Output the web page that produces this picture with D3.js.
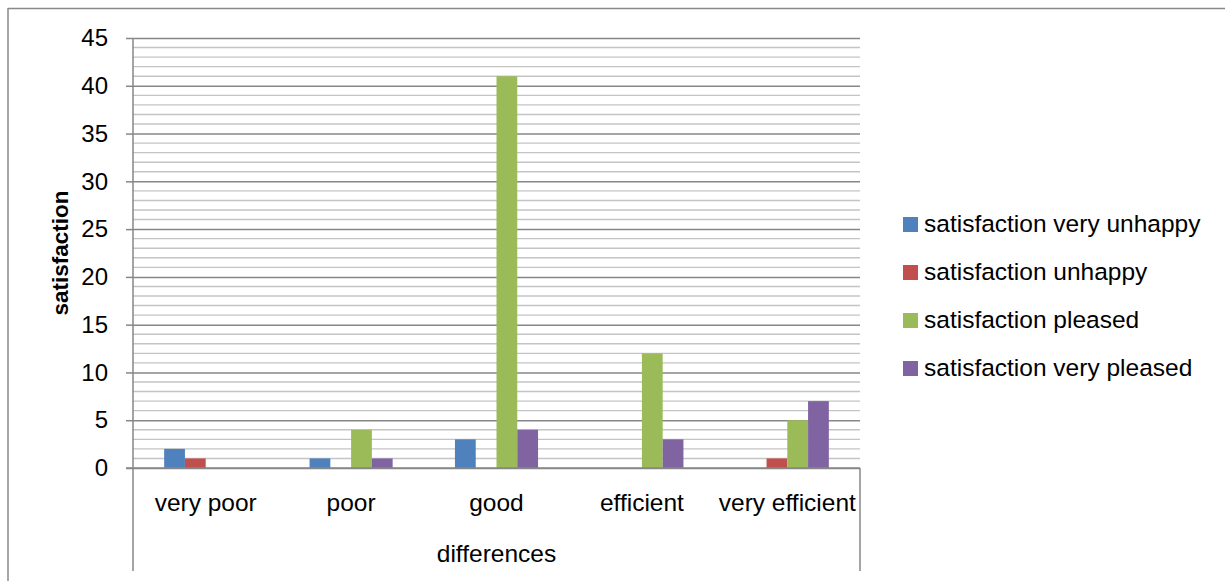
<!DOCTYPE html>
<html>
<head>
<meta charset="utf-8">
<script src="https://cdn.jsdelivr.net/npm/d3@7"></script>
<style>
  html, body { margin: 0; padding: 0; background: #fff; }
  svg { display: block; font-family: "Liberation Sans", Arial, sans-serif; }
</style>
</head>
<body>
<svg id="chart" width="1225" height="581"></svg>
<script>
// Categories on the x axis (outer group: "differences")
const categories = ["very poor", "poor", "good", "efficient", "very efficient"];
const seriesNames = [
  "satisfaction very unhappy",
  "satisfaction unhappy",
  "satisfaction pleased",
  "satisfaction very pleased"
];
const veryUnhappy = [2, 1, 3, 0, 0];
const unhappy     = [1, 0, 0, 0, 1];
const pleased     = [0, 4, 41, 12, 5];
const veryPleased = [0, 1, 4, 3, 7];
const seriesColors = ["#4F81BD", "#C0504D", "#9BBB59", "#8064A2"];
const yTicks = [0, 5, 10, 15, 20, 25, 30, 35, 40, 45];

const seriesValues = [veryUnhappy, unhappy, pleased, veryPleased];

const svg = d3.select("#chart");
const plot = { left: 133, right: 860, top: 38, bottom: 468 };

const x = d3.scaleBand().domain(categories).range([plot.left, plot.right]);
// bars take 4/7 of each band, gap 3/7
const barW = x.bandwidth() / 7;
const xInner = d3.scaleBand().domain(seriesNames)
  .range([-2 * barW, 2 * barW]);
const y = d3.scaleLinear().domain([0, 45]).range([plot.bottom, plot.top]);

// outer chart frame (top and left edges)
svg.append("line").attr("x1", 8).attr("x2", 1225).attr("y1", 8.5).attr("y2", 8.5)
  .attr("stroke", "#888").attr("stroke-width", 1.5);
svg.append("line").attr("x1", 8).attr("x2", 8).attr("y1", 8).attr("y2", 581)
  .attr("stroke", "#888").attr("stroke-width", 1.5);

// minor gridlines every 1 unit
const minor = d3.range(1, 45).filter(v => v % 5 !== 0);
svg.append("g").selectAll("line").data(minor).join("line")
  .attr("x1", plot.left).attr("x2", plot.right)
  .attr("y1", d => y(d)).attr("y2", d => y(d))
  .attr("stroke", "#c4c4c4").attr("stroke-width", 1.4);

// major gridlines with ticks on the y axis
const yAxis = d3.axisLeft(y).tickValues(yTicks).tickSize(-(plot.right - plot.left))
  .tickPadding(25).tickFormat(d3.format("d"));
const gy = svg.append("g").attr("transform", `translate(${plot.left},0)`).call(yAxis);
gy.select(".domain").remove();
gy.selectAll(".tick line").attr("stroke", "#878787").attr("stroke-width", 1.5);
gy.selectAll(".tick").append("line")
  .attr("x1", -7).attr("x2", 0).attr("stroke", "#878787").attr("stroke-width", 1.5);
gy.selectAll(".tick text")
  .attr("font-size", 24).attr("fill", "#000")
  .attr("font-family", "'Liberation Sans', Arial, sans-serif");

// bars
const barData = [];
categories.forEach((c, i) => {
  seriesNames.forEach((s, j) => {
    barData.push({ cat: c, series: s, value: seriesValues[j][i], color: seriesColors[j] });
  });
});
svg.append("g").selectAll("rect").data(barData.filter(d => d.value > 0)).join("rect")
  .attr("x", d => x(d.cat) + x.bandwidth() / 2 + xInner(d.series))
  .attr("width", xInner.bandwidth())
  .attr("y", d => y(d.value))
  .attr("height", d => y(0) - y(d.value))
  .attr("fill", d => d.color);

// x axis line and category box
svg.append("line").attr("x1", plot.left - 7).attr("x2", plot.right)
  .attr("y1", y(0)).attr("y2", y(0)).attr("stroke", "#878787").attr("stroke-width", 1.5);
svg.append("line").attr("x1", plot.left).attr("x2", plot.left)
  .attr("y1", plot.top).attr("y2", 571).attr("stroke", "#878787").attr("stroke-width", 1.5);
svg.append("line").attr("x1", plot.right).attr("x2", plot.right)
  .attr("y1", y(0)).attr("y2", 571).attr("stroke", "#878787").attr("stroke-width", 1.5);

// category labels
svg.append("g").selectAll("text").data(categories).join("text")
  .attr("x", d => x(d) + x.bandwidth() / 2)
  .attr("y", 511)
  .attr("text-anchor", "middle")
  .attr("font-size", 24.5)
  .attr("fill", "#000")
  .text(d => d);

// outer group label
svg.append("text")
  .attr("x", (plot.left + plot.right) / 2)
  .attr("y", 562)
  .attr("text-anchor", "middle")
  .attr("font-size", 24.5)
  .attr("fill", "#000")
  .text("differences");

// y axis title
svg.append("text")
  .attr("transform", `translate(68,253) rotate(-90)`)
  .attr("text-anchor", "middle")
  .attr("font-size", 22.5)
  .attr("font-weight", "bold")
  .attr("fill", "#000")
  .text("satisfaction");

// legend
const legend = svg.append("g").selectAll("g").data(seriesNames).join("g")
  .attr("transform", (d, i) => `translate(903,${232 + i * 48})`);
legend.append("rect")
  .attr("x", 0).attr("y", -15).attr("width", 15).attr("height", 15)
  .attr("fill", (d, i) => seriesColors[i]);
legend.append("text")
  .attr("x", 21).attr("y", 0)
  .attr("font-size", 24.5)
  .attr("fill", "#000")
  .text(d => d);
</script>
</body>
</html>
